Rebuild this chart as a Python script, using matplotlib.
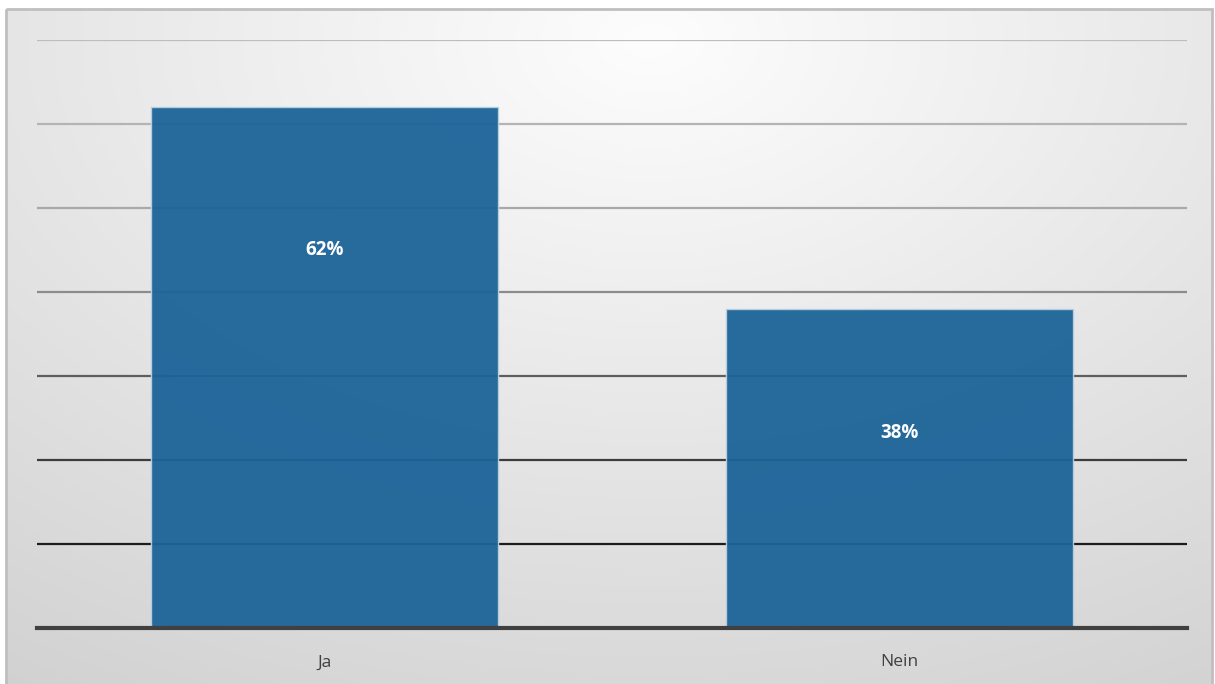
import matplotlib.pyplot as plt
import numpy as np
from matplotlib.patches import Rectangle

categories = ['Ja', 'Nein']
values = [62, 38]
labels = ['62%', '38%']
label_y = [45, 23.2]   # where the data labels sit on the bars

grid_vals = [10, 20, 30, 40, 50, 60, 70]
grid_colors = ['#1c1c1c', '#3c3c3c', '#5e5e5e', '#8c8c8c', '#a8a8a8', '#b4b4b4', '#bdbdbd']

W, H = 1215, 684
fig = plt.figure(figsize=(W / 100, H / 100), dpi=100)

# background: soft radial gradient, light near the top centre
bg = fig.add_axes([0, 0, 1, 1], zorder=-1)
yy, xx = np.mgrid[0:H, 0:W]
drop = np.sqrt((24 * (xx - 650) / 650) ** 2 + (36 * (yy - 40) / 634) ** 2)
shade = np.clip(253 - drop, 0, 255) / 255
img = np.dstack([shade, shade, shade])
img[:9, :] = 1
img[:, :6] = 1
img[:, 1212:] = 1
bg.imshow(img, aspect='auto', extent=(0, W, H, 0))
bg.add_patch(Rectangle((6, 9), 1206, 700, fill=False, ec='#bfbfbf', lw=2))
bg.set_xlim(0, W)
bg.set_ylim(H, 0)
bg.axis('off')

ax = fig.add_axes([37 / W, 1 - 628 / H, 1150 / W, 588 / H])
ax.patch.set_alpha(0)

for v, c in zip(grid_vals, grid_colors):
    ax.axhline(v, color=c, lw=1.6, zorder=1)

x = np.arange(len(categories))
ax.bar(x, values, width=0.604, color='#1c6398', alpha=0.95,
       edgecolor='#b9d0e2', linewidth=1.0, zorder=2)

for i, (lab, ly) in enumerate(zip(labels, label_y)):
    ax.text(i, ly, lab, ha='center', va='center', color='white',
            fontsize=13.5, fontweight='bold', family='Open Sans', zorder=3)

ax.set_xlim(-0.5, 1.5)
ax.set_ylim(0, 70)
ax.set_yticks([])
ax.set_xticks(x)
ax.set_xticklabels(categories, fontsize=12.5, color='#404040', family='Open Sans')
ax.tick_params(axis='x', length=0, pad=19)
for s in ['top', 'right', 'left']:
    ax.spines[s].set_visible(False)
ax.spines['bottom'].set_color('#404040')
ax.spines['bottom'].set_linewidth(3)
ax.spines['bottom'].set_zorder(4)

fig.savefig('out.png', dpi=100)
